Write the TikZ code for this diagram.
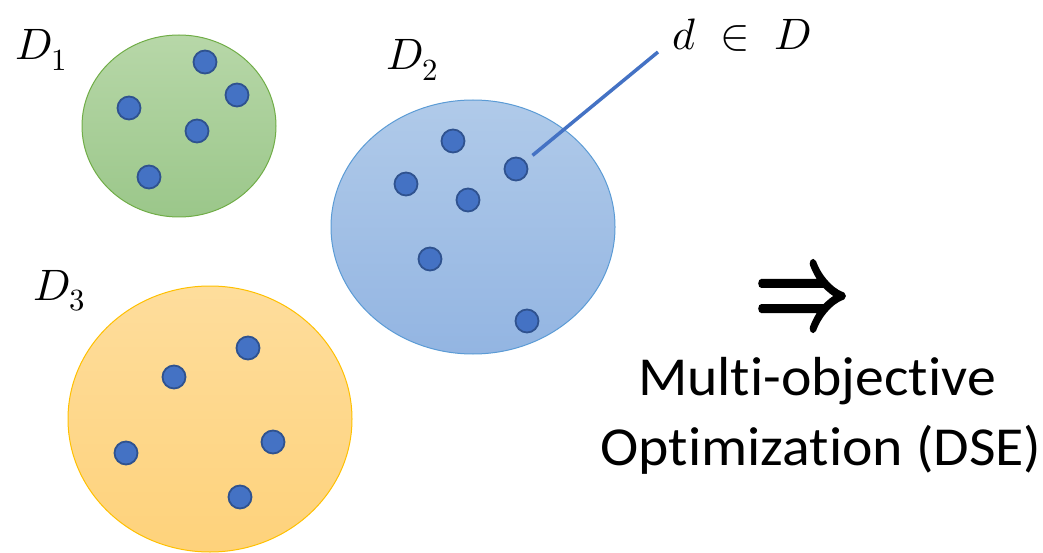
\documentclass[tikz,border=0pt]{standalone}
\usepackage{fontspec}
\usepackage{unicode-math}
\setmainfont[Ligatures=NoCommon]{Carlito}
\setmathfont{Latin Modern Math}
\newfontfamily\arrowfont[FakeBold=3]{Latin Modern Math}
\definecolor{dotfill}{HTML}{4472C4}
\definecolor{dotline}{HTML}{2F528F}
\definecolor{gtop}{HTML}{B7D7A8}
\definecolor{gbot}{HTML}{9BC78A}
\definecolor{gline}{HTML}{70AD47}
\definecolor{btop}{HTML}{B0CAE9}
\definecolor{bbot}{HTML}{93B5E2}
\definecolor{bline}{HTML}{5B9BD5}
\definecolor{otop}{HTML}{FEDD9C}
\definecolor{obot}{HTML}{FED27B}
\definecolor{oline}{HTML}{FFC000}
\tikzset{
  dot/.style={circle,minimum size=23pt,inner sep=0pt,fill=dotfill,draw=dotline,line width=1.8pt},
  setlabel/.style={inner sep=0pt,font=\fontsize{44}{50}\selectfont},
  blob/.style={line width=1pt},
  bigtext/.style={inner sep=0pt,anchor=base,font=\fontsize{55}{60}\selectfont},
}
\begin{document}
\begin{tikzpicture}[x=1pt,y=-1pt]
\useasboundingbox (0,0) rectangle (1043,553);
% sets
\shade[top color=gtop,bottom color=gbot] (179,126) ellipse [x radius=97,y radius=91];
\draw[gline,blob] (179,126) ellipse [x radius=97,y radius=91];
\shade[top color=btop,bottom color=bbot] (473,227) ellipse [x radius=142,y radius=127];
\draw[bline,blob] (473,227) ellipse [x radius=142,y radius=127];
\shade[top color=otop,bottom color=obot] (210,419) ellipse [x radius=142,y radius=133];
\draw[oline,blob] (210,419) ellipse [x radius=142,y radius=133];
% dots D1
\node[dot] (g1) at (205,62) {};
\node[dot] (g2) at (237,95) {};
\node[dot] (g3) at (129,108) {};
\node[dot] (g4) at (197,131) {};
\node[dot] (g5) at (149,177) {};
% dots D2
\node[dot] (b1) at (453,141) {};
\node[dot] (b2) at (516,169) {};
\node[dot] (b3) at (406,184) {};
\node[dot] (b4) at (468,200) {};
\node[dot] (b5) at (430,259) {};
\node[dot] (b6) at (527,321) {};
% dots D3
\node[dot] (o1) at (248,348) {};
\node[dot] (o2) at (174,377) {};
\node[dot] (o3) at (273,442) {};
\node[dot] (o4) at (126,453) {};
\node[dot] (o5) at (240,497) {};
% labels
\node[setlabel,anchor=base west] (l1) at (15,60) {$D_1$};
\node[setlabel,anchor=base west] (l2) at (386,70) {$D_2$};
\node[setlabel,anchor=base west] (l3) at (33,300) {$D_3$};
\node[setlabel,anchor=base west] (dlab) at (672,50) {$d\;\in\;D$};
\coordinate (dtip) at (658,52);
\draw[dotfill,line width=3.5pt,shorten <=9pt] (b2) -- (dtip);
% arrow and text
\node[inner sep=0pt] (arr) at (802,296) {\scalebox{1}[1.35]{\arrowfont\fontsize{96}{96}\selectfont ⇒}};
\node[bigtext] (t1) at (817,395) {\scalebox{1.05}[1]{Multi-objective}};
\node[bigtext] (t2) at (821,465) {\scalebox{1.05}[1]{Optimization (DSE)}};
\end{tikzpicture}
\end{document}
